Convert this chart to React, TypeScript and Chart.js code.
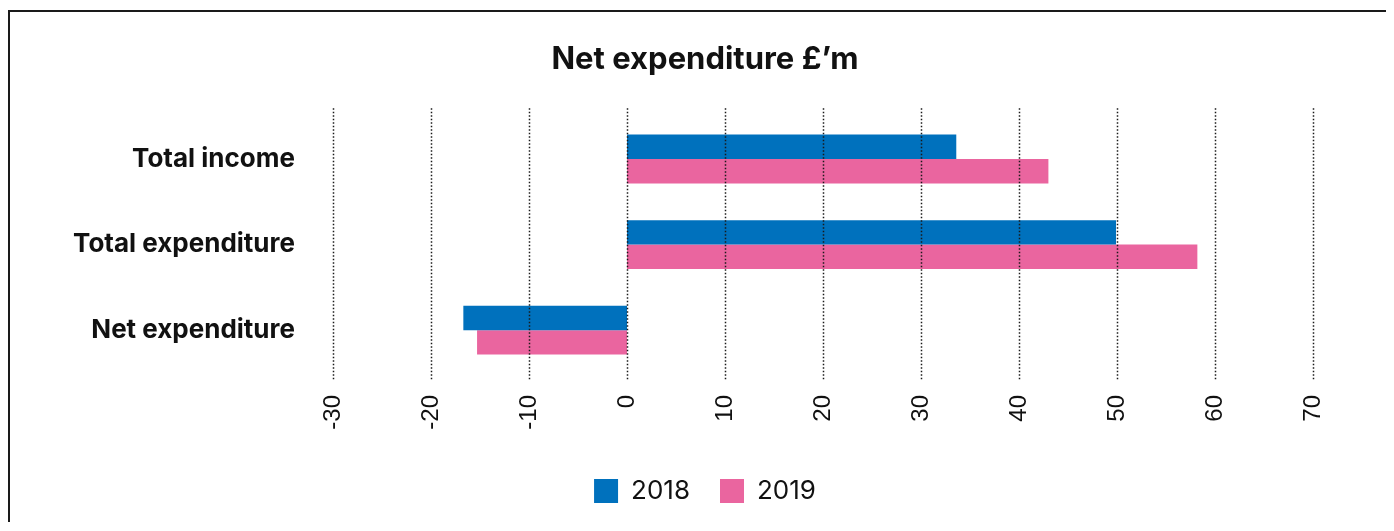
import React, { useEffect, useRef } from "react";
import { Chart, registerables } from "chart.js";

Chart.register(...registerables);

const categories = ["Total income", "Total expenditure", "Net expenditure"];
const series2018 = [33.6, 49.9, -16.7];
const series2019 = [43.0, 58.2, -15.3];
const seriesLabels = ["2018", "2019"];
const xTickMin = -30;
const xTickMax = 70;
const xTickStep = 10;
const titleText = "Net expenditure £\u2019m";

const BLUE = "#0071bd";
const PINK = "#ea659f";

const dottedGrid = {
  id: "dottedGrid",
  afterDatasetsDraw(chart: any) {
    const { ctx, chartArea, scales } = chart;
    const x = scales.x;
    ctx.save();
    ctx.strokeStyle = "#1a1a1a";
    ctx.lineWidth = 1.5;
    ctx.setLineDash([1.5, 2]);
    x.ticks.forEach((t: any) => {
      const px = Math.round(x.getPixelForValue(t.value)) + 0.5;
      ctx.beginPath();
      ctx.moveTo(px, chartArea.top - 8);
      ctx.lineTo(px, chartArea.bottom + 7);
      ctx.stroke();
    });
    ctx.restore();
  },
};

export default function App() {
  const ref = useRef<HTMLCanvasElement | null>(null);

  useEffect(() => {
    if (!ref.current) return;
    const chart = new Chart(ref.current, {
      type: "bar",
      data: {
        labels: categories,
        datasets: [
          {
            label: seriesLabels[0],
            data: series2018,
            backgroundColor: BLUE,
            borderWidth: 0,
            barPercentage: 1.0,
            categoryPercentage: 0.57,
          },
          {
            label: seriesLabels[1],
            data: series2019,
            backgroundColor: PINK,
            borderWidth: 0,
            barPercentage: 1.0,
            categoryPercentage: 0.57,
          },
        ],
      },
      options: {
        indexAxis: "y",
        responsive: false,
        animation: false,
        layout: { padding: { left: 0, right: 0, top: 0, bottom: 8 } },
        plugins: {
          title: {
            display: true,
            text: titleText,
            color: "#111",
            font: { family: "Inter", size: 31, weight: "bold" },
            padding: { top: 29, bottom: 38 },
          },
          legend: {
            position: "bottom",
            labels: {
              boxWidth: 24,
              boxHeight: 24,
              padding: 30,
              color: "#111",
              font: { family: "Inter", size: 26 },
            },
          },
          tooltip: { enabled: false },
        },
        scales: {
          x: {
            type: "linear",
            min: xTickMin,
            max: xTickMax,
            ticks: {
              stepSize: xTickStep,
              maxRotation: 90,
              minRotation: 90,
              padding: 22,
              color: "#111",
              font: { family: "Liberation Sans", size: 24 },
            },
            grid: { display: false, drawTicks: false },
            border: { display: false },
            afterFit(scale: any) {
              scale.height = 75;
            },
          },
          y: {
            type: "category",
            ticks: {
              padding: 38,
              color: "#111",
              font: { family: "Inter", size: 26, weight: "bold" },
            },
            grid: { display: false, drawTicks: false },
            border: { display: false },
            afterFit(scale: any) {
              scale.width = 323;
            },
          },
          yRight: {
            type: "category",
            position: "right",
            ticks: { display: false },
            grid: { display: false, drawTicks: false },
            border: { display: false },
            afterFit(scale: any) {
              scale.width = 87;
            },
          },
        },
      },
      plugins: [dottedGrid],
    });
    return () => chart.destroy();
  }, []);

  return (
    <div
      style={{
        marginTop: 2,
        borderTop: "2px solid #1a1a1a",
        borderLeft: "2px solid #1a1a1a",
        overflow: "hidden",
        height: 510,
      }}
    >
      <canvas ref={ref} width={1390} height={510} style={{ display: "block" }} />
    </div>
  );
}
